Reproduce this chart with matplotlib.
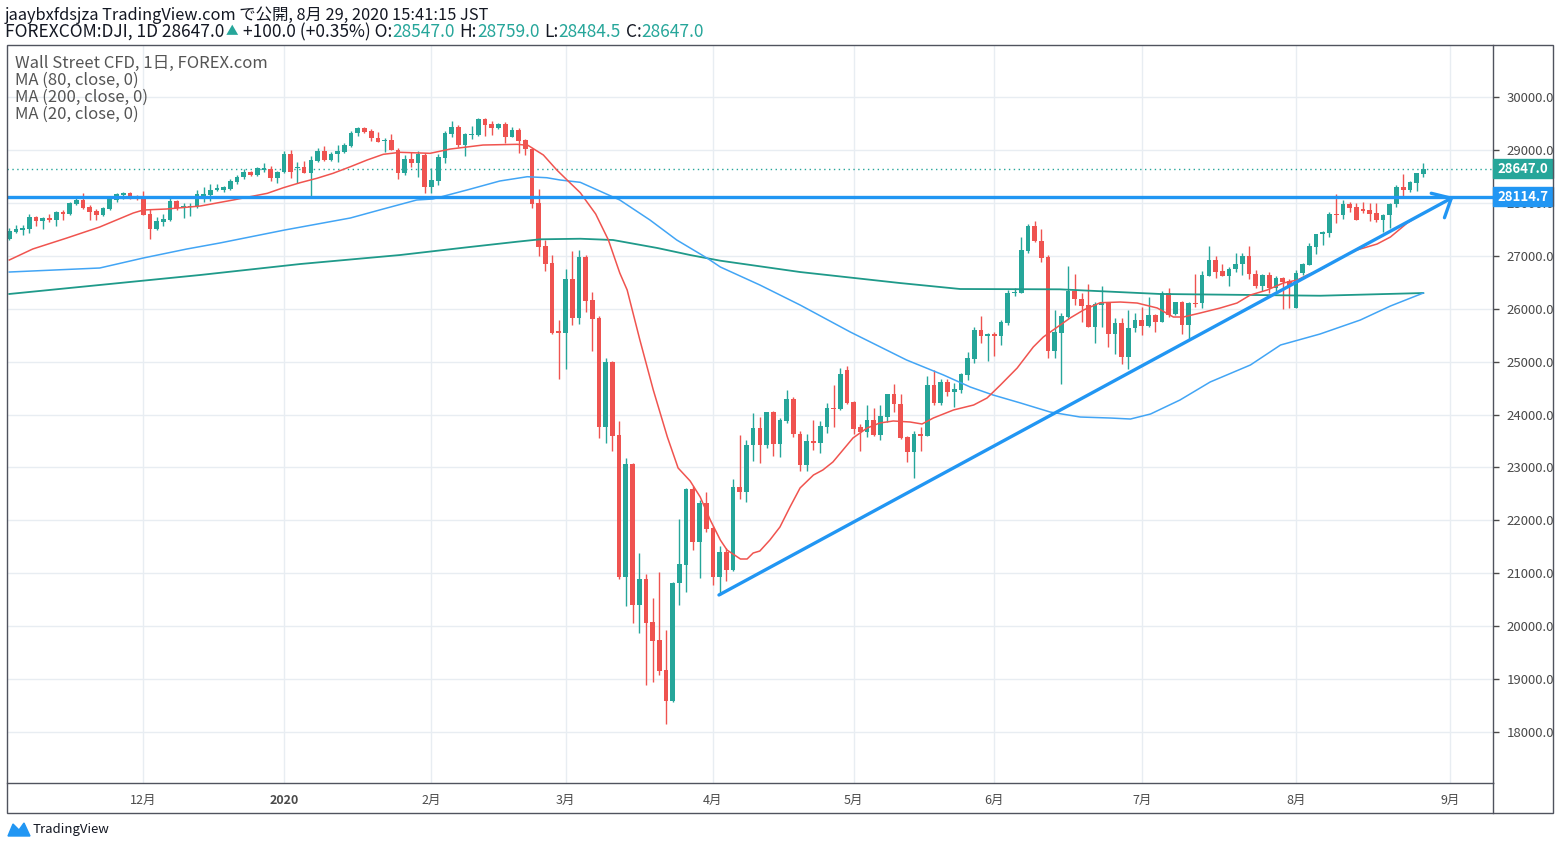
import matplotlib
matplotlib.use("Agg")
import matplotlib.pyplot as plt
from matplotlib.patches import Rectangle, Polygon
from matplotlib.lines import Line2D
import numpy as np

plt.rcParams['font.family'] = ['Noto Sans CJK JP', 'DejaVu Sans']

# daily candles FOREXCOM:DJI, Nov 2019 - Aug 28 2020
opens = [27317, 27450, 27490, 27506, 27732, 27657, 27714, 27676, 27827, 27790,
         27978, 28054, 27922, 27846, 27770, 27885, 28054, 28148, 28186, 28130,
         28092, 27790, 27506, 27638, 27676, 28035, 27903, 27920, 27940, 28130,
         28145, 28243, 28250, 28255, 28400, 28483, 28583, 28520, 28630, 28645,
         28475, 28577, 28930, 28650, 28680, 28560, 28790, 28975, 28815, 28920,
         28965, 29080, 29315, 29410, 29360, 29220, 29165, 29187, 28999, 28558,
         28830, 28760, 28905, 28305, 28420, 28853, 29300, 29440, 29093, 29290,
         29280, 29585, 29490, 29420, 29490, 29250, 29376, 29187, 29010, 27990,
         27185, 26857, 25570, 25546, 26560, 25830, 26985, 26165, 25825, 23770,
         24990, 23613, 20935, 23065, 20400, 20890, 20080, 19740, 19170, 18590,
         20820, 21155, 22593, 21600, 22328, 21860, 20935, 21400, 21060, 22630,
         22535, 23420, 23745, 23425, 24050, 23445, 23885, 24295, 23640, 23050,
         23500, 23462, 23770, 24125, 24110, 24840, 24235, 23770, 23675, 23897,
         23613, 23960, 24388, 24195, 23570, 23297, 23630, 23600, 24558, 24220,
         24615, 24430, 24463, 24755, 25055, 25597, 25490, 25520, 25484, 25735,
         26290, 26300, 27090, 27563, 27280, 26980, 25205, 25545, 25840, 26340,
         26177, 26070, 25654, 26075, 26120, 25527, 25730, 25093, 25630, 25786,
         25670, 25875, 25755, 26290, 25900, 26125, 25700, 26115, 26100, 26625,
         26920, 26720, 26625, 26750, 26840, 26995, 26650, 26430, 26630, 26400,
         26580, 26525, 26020, 26670, 26830, 27170, 27405, 27435, 27790, 27765,
         27980, 27915, 27880, 27865, 27810, 27675, 27770, 27975, 28295, 28250,
         28380, 28547]
highs = [27525, 27580, 27580, 27785, 27750, 27730, 27785, 27840, 27865, 28020,
         28085, 28190, 27960, 27885, 27915, 28090, 28190, 28210, 28210, 28150,
         28230, 27885, 27740, 27790, 28090, 28054, 27990, 27990, 28240, 28305,
         28355, 28355, 28320, 28450, 28525, 28640, 28600, 28680, 28745, 28695,
         28600, 28980, 29000, 28765, 28800, 28890, 29035, 29080, 28960, 29090,
         29130, 29360, 29430, 29430, 29395, 29345, 29220, 29295, 29040, 28905,
         28955, 28980, 28945, 28655, 28925, 29365, 29545, 29470, 29325, 29460,
         29610, 29605, 29545, 29510, 29530, 29440, 29415, 29205, 29035, 28260,
         27300, 27015, 25785, 26750, 27090, 27110, 27015, 26315, 25860, 25070,
         25010, 23880, 23175, 23085, 21385, 20990, 20535, 21025, 19930, 20840,
         22025, 22610, 22655, 22385, 22540, 21900, 21515, 21470, 22780, 23615,
         23520, 24035, 23960, 24055, 24070, 23935, 24465, 24335, 23680, 23630,
         23897, 23880, 24220, 24565, 24880, 24915, 24260, 23820, 24180, 24125,
         24180, 24390, 24580, 24390, 23600, 23690, 23765, 24730, 24840, 24665,
         24665, 24590, 24790, 25185, 25650, 25860, 25540, 25555, 25780, 26350,
         26385, 27360, 27600, 27655, 27505, 27015, 25975, 25915, 26805, 26655,
         26290, 26465, 26130, 26430, 26130, 25820, 25820, 25975, 25915, 26040,
         26215, 25900, 26335, 26400, 26135, 26140, 26135, 26655, 26720, 27185,
         26995, 26845, 26780, 27045, 27055, 27185, 26730, 26650, 26700, 26620,
         26600, 26560, 26730, 26870, 27250, 27415, 27460, 27825, 28165, 28055,
         28020, 28000, 28020, 28000, 27990, 27790, 28000, 28340, 28545, 28410,
         28565, 28759]
lows = [27300, 27430, 27400, 27435, 27570, 27510, 27645, 27560, 27676, 27770,
        27960, 27890, 27676, 27680, 27750, 27865, 28015, 28080, 28080, 28054,
        27770, 27320, 27480, 27560, 27660, 27870, 27720, 27760, 27905, 28020,
        28040, 28220, 28200, 28240, 28355, 28450, 28505, 28505, 28590, 28410,
        28370, 28565, 28470, 28380, 28555, 28130, 28770, 28795, 28790, 28765,
        28940, 29055, 29260, 29320, 29170, 29145, 28965, 28990, 28455, 28525,
        28685, 28495, 28180, 28195, 28345, 28760, 29250, 29060, 28890, 29205,
        29270, 29270, 29280, 29395, 29125, 29240, 28950, 28905, 27910, 27000,
        26720, 25520, 24680, 24865, 25690, 25715, 25945, 25205, 23560, 23470,
        23315, 20890, 20380, 20065, 19880, 18890, 18950, 19080, 18150, 18570,
        20400, 20650, 21440, 20915, 21785, 20780, 20590, 20860, 21040, 22400,
        22350, 23120, 23090, 23365, 23215, 23200, 23840, 23575, 22940, 22940,
        23330, 23270, 23645, 23770, 24090, 24200, 23630, 23320, 23580, 23595,
        23520, 23865, 24040, 23540, 23110, 22795, 23320, 23590, 24180, 24180,
        24350, 24150, 24400, 24650, 24970, 25355, 25020, 25105, 25315, 25690,
        26240, 26290, 27045, 27255, 26890, 25070, 25070, 24570, 25830, 26070,
        25755, 25650, 25355, 25650, 25280, 25140, 24955, 24865, 25565, 25500,
        25660, 25565, 25750, 25850, 25880, 25530, 25410, 26040, 26010, 26620,
        26585, 26620, 26430, 26700, 26635, 26560, 26385, 26335, 26290, 26330,
        25990, 26020, 26015, 26635, 26830, 27030, 27200, 27360, 27625, 27695,
        27830, 27670, 27800, 27655, 27630, 27455, 27530, 27930, 28105, 28210,
        28230, 28484.5]
closes = [27468, 27506, 27530, 27732, 27662, 27714, 27680, 27827, 27795, 27997,
          28054, 27903, 27827, 27770, 27903, 28073, 28167, 28186, 28130, 28073,
          27770, 27506, 27657, 27695, 28035, 27903, 27940, 27940, 28167, 28167,
          28243, 28280, 28295, 28413, 28494, 28590, 28520, 28653, 28653, 28475,
          28583, 28930, 28577, 28680, 28560, 28805, 28980, 28815, 28930, 28980,
          29093, 29320, 29410, 29345, 29220, 29155, 29195, 28999, 28558, 28830,
          28755, 28917, 28305, 28432, 28872, 29325, 29440, 29093, 29300, 29300,
          29585, 29470, 29420, 29490, 29250, 29376, 29175, 29010, 27978, 27170,
          26850, 25546, 25550, 26560, 25830, 26985, 26150, 25810, 23770, 24990,
          23600, 20935, 23065, 20400, 20890, 20065, 19725, 19160, 18590, 20820,
          21175, 22593, 21600, 22328, 21840, 20935, 21400, 21060, 22630, 22535,
          23425, 23745, 23425, 24050, 23445, 23897, 24295, 23640, 23050, 23500,
          23462, 23783, 24125, 24105, 24765, 24215, 23735, 23675, 23897, 23613,
          23972, 24388, 24195, 23560, 23297, 23630, 23600, 24558, 24212, 24615,
          24425, 24480, 24765, 25068, 25597, 25484, 25520, 25490, 25750, 26296,
          26315, 27109, 27563, 27280, 26965, 25205, 25560, 25860, 26340, 26177,
          26057, 25654, 26085, 26105, 25527, 25730, 25093, 25635, 25786, 25680,
          25875, 25750, 26290, 25885, 26130, 25700, 26100, 26095, 26630, 26920,
          26700, 26625, 26750, 26845, 26995, 26650, 26430, 26630, 26400, 26580,
          26510, 26430, 26675, 26845, 27185, 27410, 27455, 27790, 27765, 27980,
          27910, 27675, 27845, 27795, 27676, 27770, 27980, 28300, 28250, 28390,
          28565, 28647]

# moving averages as drawn on the chart (bar index, value)
ma20_i = [0, 3.5, 8.6, 13.5, 18.5, 20, 23.5, 28.5, 33.4, 38.5, 40.9, 43.4, 45.9, 48.3,
          50.9, 53.4, 55.8, 58.3, 62.8, 65.8, 70.7, 75.8, 77.4, 79.7, 81.7, 83.7, 85.2,
          87.5, 89.4, 91.1, 92.2, 94.1, 96.1, 98.2, 99.8, 101.6, 103.1, 104.6, 106.1,
          107.1, 109.1, 110.1, 111.0, 112.0, 113.5, 115.0, 116.5, 118.0, 120.0, 121.4,
          122.9, 124.4, 125.9, 128.0, 129.9, 131.9, 134.4, 136.2, 137.9, 140.9, 143.9,
          145.9, 147.9, 150.4, 152.8, 154.3, 156.4, 158.3, 160.3, 162.8, 165.8, 168.3,
          171.3, 173.7, 175.2, 177.7, 180.7, 183.2, 185.2, 187.7, 190.1, 192.2, 193.7,
          195.6, 198.6, 201.1, 204.1, 206.1, 208.6, 211.0]
ma20_v = [26920, 27128, 27336, 27544, 27808, 27865, 27884, 27940, 28054, 28180, 28286,
          28381, 28464, 28558, 28683, 28810, 28917, 28955, 28936, 29017, 29093, 29106,
          29087, 28904, 28621, 28375, 28192, 27790, 27298, 26674, 26353, 25408, 24463,
          23575, 22990, 22744, 22442, 22007, 21629, 21440, 21270, 21270, 21383, 21421,
          21629, 21875, 22253, 22612, 22857, 22952, 23103, 23330, 23557, 23745, 23840,
          23878, 23859, 23821, 23935, 24086, 24180, 24312, 24558, 24879, 25276, 25465,
          25654, 25824, 25975, 26113, 26126, 26107, 26013, 25843, 25843, 25918, 26013,
          26107, 26259, 26353, 26485, 26542, 26637, 26731, 26958, 27109, 27222, 27355,
          27619, 27808]
ma80_i = [0, 13.5, 20, 26.5, 31.4, 41.1, 50.9, 55.8, 60.8, 63.2, 68.3, 73.2, 77.3, 80.2,
          82.2, 85.2, 91.1, 95.6, 99.6, 104.1, 106.1, 112.0, 118.0, 125.5, 133.9, 139.4,
          143.4, 146.8, 150.9, 155.3, 159.8, 164.3, 167.3, 170.3, 174.7, 179.2, 185.2,
          189.7, 195.6, 201.6, 206.1, 211.0]
ma80_v = [26693, 26769, 26958, 27128, 27241, 27487, 27714, 27884, 28054, 28073, 28243,
          28413, 28494, 28475, 28432, 28388, 28054, 27676, 27298, 26958, 26788, 26448,
          26070, 25559, 25030, 24747, 24520, 24369, 24218, 24048, 23953, 23934, 23915,
          24010, 24275, 24615, 24936, 25314, 25522, 25786, 26051, 26296]
ma200_i = [0, 13.5, 28.5, 43.4, 58.3, 68.3, 75.8, 79.2, 85.2, 90.1, 96.7, 101.6, 106.1,
           118.0, 132.9, 141.9, 156.8, 171.7, 195.6, 211.0]
ma200_v = [26278, 26448, 26637, 26844, 27014, 27160, 27266, 27311, 27322, 27298, 27147,
           27014, 26907, 26693, 26485, 26372, 26366, 26278, 26245, 26296]

level = 28114.7
last = 28647.0
trend_start = (105.9, 20590)
trend_end = (215.5, 28110)

month_ticks = [20, 41, 63, 83, 105, 126, 147, 169, 192, 215]
month_labels = ['12月', '2020', '2月', '3月', '4月', '5月', '6月', '7月', '8月', '9月']

GREEN = '#26a69a'
RED = '#ef5350'
BLUE = '#2196f3'
TEXT = '#131722'

W, H = 1560, 849
fig = plt.figure(figsize=(W / 100, H / 100), dpi=100)
ax = fig.add_axes([7 / W, (H - 783) / H, (1493 - 7) / W, (783 - 45) / H])

o = np.array(opens, dtype=float)
h = np.array(highs, dtype=float)
l = np.array(lows, dtype=float)
c = np.array(closes, dtype=float)
x = np.arange(len(c))
cols = np.where(c >= o, GREEN, RED)

ax.vlines(x, l, h, colors=cols, lw=1, zorder=3)
ax.bar(x, np.maximum(np.abs(c - o), 18), bottom=np.minimum(o, c), width=0.7,
       color=cols, linewidth=0, zorder=4)

ax.plot(ma200_i, ma200_v, color='#1f9a8a', lw=1.3, zorder=5)
ax.plot(ma80_i, ma80_v, color='#42a5f5', lw=1.1, zorder=5)
ax.plot(ma20_i, ma20_v, color='#f0544f', lw=1.1, zorder=5)

ax.axhline(last, color=GREEN, lw=1, ls=(0, (1, 2.5)), zorder=2)
ax.axhline(level, color=BLUE, lw=2.4, zorder=6)
ax.annotate('', xy=trend_end, xytext=trend_start,
            arrowprops=dict(arrowstyle='->, head_length=0.55, head_width=0.5',
                            color=BLUE, lw=2.4, mutation_scale=20,
                            shrinkA=0, shrinkB=0), zorder=6)

ax.set_xlim(-0.34, 221.4)
ax.set_ylim(17037, 30983)
ax.set_xticks(month_ticks)
ax.set_xticklabels(month_labels)
for t in ax.get_xticklabels():
    if t.get_text() == '2020':
        t.set_fontweight('bold')
yt = list(range(18000, 30001, 1000))
ax.set_yticks(yt)
ax.set_yticklabels([f'{v:.1f}' for v in yt])
ax.yaxis.tick_right()
ax.tick_params(axis='y', labelsize=9.5, colors='#4a4a4a', length=4, pad=6, width=1)
ax.tick_params(axis='x', labelsize=9, colors='#4a4a4a', length=0, pad=8)
ax.grid(True, color='#e8edf2', lw=1)
ax.set_axisbelow(True)
for s in ['top', 'left']:
    ax.spines[s].set_visible(False)
for s in ['bottom', 'right']:
    ax.spines[s].set_color('#50535e')
    ax.spines[s].set_linewidth(1)

# price labels on the right scale
yx = ax.get_yaxis_transform()
for val, col, txt in [(last, GREEN, '28647.0'), (level, BLUE, '28114.7')]:
    ax.add_patch(Rectangle((1.0, val - 180), 60 / 1486, 360, transform=yx,
                           color=col, clip_on=False, zorder=10))
    ax.text(1.0 + 30 / 1486, val, txt, transform=yx, ha='center', va='center',
            color='white', fontsize=9.5, fontweight='bold', zorder=11, clip_on=False)

# outer frame
def fx(px):
    return px / W

def fy(py):
    return 1 - py / H

fig.add_artist(Rectangle((fx(7), fy(813)), fx(1553) - fx(7), fy(45) - fy(813),
                         transform=fig.transFigure, fill=False, ec='#50535e', lw=1))
fig.add_artist(Line2D([fx(1493), fx(1493)], [fy(813), fy(783)],
                      transform=fig.transFigure, color='#50535e', lw=1))

# header
fig.text(fx(5), fy(15), 'jaaybxfdsjza TradingView.com で公開, 8月 29, 2020 15:41:15 JST',
         fontsize=11.8, color=TEXT, va='center', ha='left')
segs = [('FOREXCOM:DJI, 1D 28647.0', TEXT, 12.5, 0), ('▲', GREEN, 9, 1),
        ('+100.0 (+0.35%) O:', TEXT, 12.5, 5), ('28547.0', GREEN, 12.5, 0),
        ('H:', TEXT, 12.5, 5), ('28759.0', GREEN, 12.5, 0),
        ('L:', TEXT, 12.5, 5), ('28484.5', GREEN, 12.5, 0),
        ('C:', TEXT, 12.5, 5), ('28647.0', GREEN, 12.5, 0)]
r = fig.canvas.get_renderer()
cx = 5
for s, col, fs, gap in segs:
    cx += gap
    t = fig.text(fx(cx), fy(32), s, fontsize=fs, color=col, va='center', ha='left')
    cx = t.get_window_extent(r).x1

# legend
for i, s in enumerate(['Wall Street CFD, 1日, FOREX.com', 'MA (80, close, 0)',
                       'MA (200, close, 0)', 'MA (20, close, 0)']):
    fig.text(fx(15), fy(63 + 17 * i), s, fontsize=12, color='#555555',
             va='center', ha='left')

# TradingView mark
fig.add_artist(Polygon([(fx(8), fy(836)), (fx(13), fy(824)), (fx(19), fy(830)),
                        (fx(24), fy(823)), (fx(30), fy(836))],
                       closed=True, transform=fig.transFigure, color='#2196f3'))
fig.text(fx(33), fy(830), 'TradingView', fontsize=9.5, color=TEXT, va='center', ha='left')

fig.savefig('out.png', dpi=100)
